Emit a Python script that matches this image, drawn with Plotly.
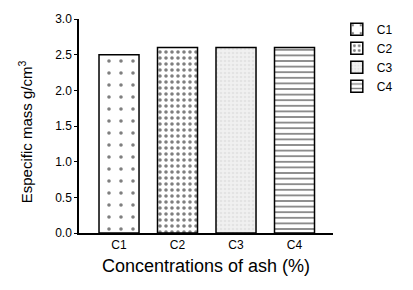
import plotly.graph_objects as go

categories = ["C1", "C2", "C3", "C4"]
values = [2.5, 2.6, 2.6, 2.6]
y_ticks = [0.0, 0.5, 1.0, 1.5, 2.0, 2.5, 3.0]

patterns = [
    dict(shape=".", size=12, solidity=0.07, fgcolor="black", bgcolor="white", fillmode="overlay"),
    dict(shape=".", size=6, solidity=0.28, fgcolor="black", bgcolor="white", fillmode="overlay"),
    dict(shape=".", size=4, solidity=0.35, fgcolor="#d6d6d6", bgcolor="#f0f0f0", fillmode="overlay"),
    dict(shape="-", size=5.6, solidity=0.3, fgcolor="black", bgcolor="white", fillmode="overlay"),
]

fig = go.Figure()
for cat, val, pat in zip(categories, values, patterns):
    fig.add_trace(go.Bar(
        x=[cat], y=[val], name=cat, width=0.684,
        marker=dict(color="white", line=dict(color="black", width=1.5), pattern=pat),
    ))

font = "Liberation Sans, Arial, sans-serif"
fig.update_layout(
    width=413, height=290,
    margin=dict(l=79, r=80, t=19, b=57, autoexpand=False),
    paper_bgcolor="white", plot_bgcolor="white",
    barmode="overlay",
    font=dict(family=font, color="black", size=12),
    showlegend=True,
    legend=dict(x=1.015, xanchor="left", y=1.02, yanchor="top",
                font=dict(size=12, family=font), tracegroupgap=0,
                bgcolor="rgba(0,0,0,0)"),
    xaxis=dict(
        categoryorder="array", categoryarray=categories,
        range=[-0.684, 3.658], showline=True, linecolor="black", linewidth=1.5,
        ticks="", showgrid=False, zeroline=False, automargin=False,
        tickfont=dict(size=12),
        title=dict(text="Concentrations of ash (%)", font=dict(size=18), standoff=8),
    ),
    yaxis=dict(
        range=[0, 3.0], tickvals=y_ticks, tickformat=".1f",
        showline=True, linecolor="black", linewidth=1.5,
        ticks="outside", ticklen=3, tickwidth=1, tickcolor="black",
        showgrid=False, zeroline=False, automargin=False,
        tickfont=dict(size=12),
    ),
    annotations=[dict(
        text="Especific mass g/cm<sup>3</sup>", textangle=-90,
        xref="paper", yref="paper", x=-0.213, y=0.475,
        xanchor="center", yanchor="middle", showarrow=False,
        font=dict(size=15, family=font, color="black"),
    )],
)

fig.write_html("out.html", config={"displayModeBar": False},
               post_script="document.body.style.margin='0';")
